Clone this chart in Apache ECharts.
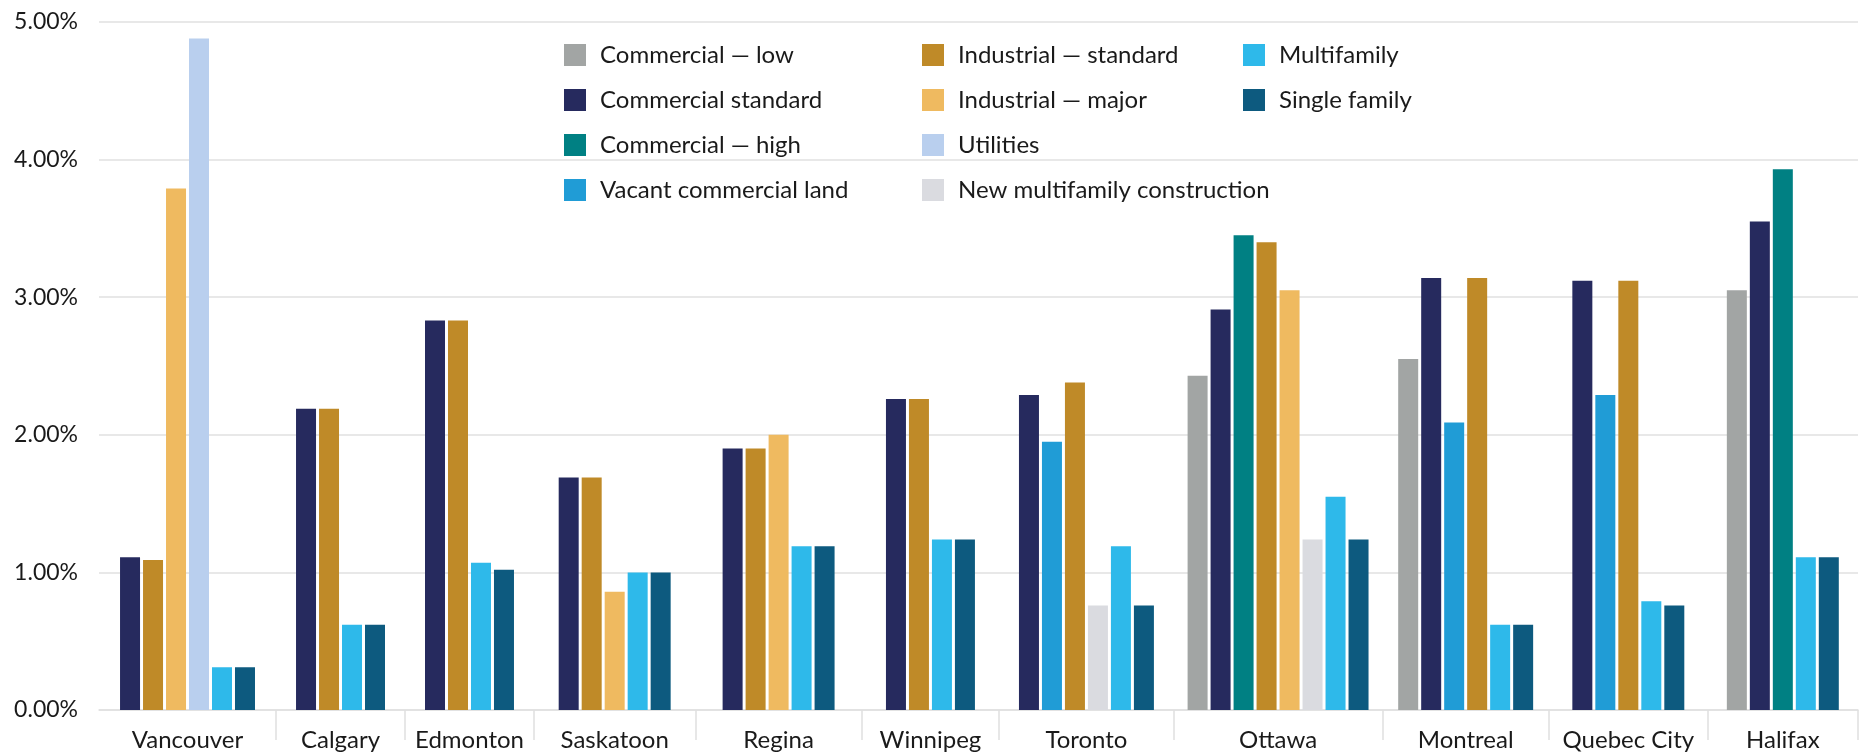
<!DOCTYPE html>
<html>
<head>
<meta charset="utf-8">
<title>Tax rates by property class</title>
<script src="https://cdn.jsdelivr.net/npm/echarts@6/dist/echarts.min.js"></script>
<style>
  html, body { margin: 0; padding: 0; background: #ffffff; }
  #chart { width: 1860px; height: 752px; }
</style>
</head>
<body>
<div id="chart"></div>
<script>
// Cities along the x axis
const cities = ['Vancouver', 'Calgary', 'Edmonton', 'Saskatoon', 'Regina', 'Winnipeg',
                'Toronto', 'Ottawa', 'Montreal', 'Quebec City', 'Halifax'];

// Rates in percent, one entry per city; null where the class is not reported
const commercialLow      = [null, null, null, null, null, null, null, 2.43, 2.55, null, 3.05];
const commercialStandard = [1.11, 2.19, 2.83, 1.69, 1.90, 2.26, 2.29, 2.91, 3.14, 3.12, 3.55];
const commercialHigh     = [null, null, null, null, null, null, null, 3.45, null, null, 3.93];
const vacantCommercial   = [null, null, null, null, null, null, 1.95, null, 2.09, 2.29, null];
const industrialStandard = [1.09, 2.19, 2.83, 1.69, 1.90, 2.26, 2.38, 3.40, 3.14, 3.12, null];
const industrialMajor    = [3.79, null, null, 0.86, 2.00, null, null, 3.05, null, null, null];
const utilities          = [4.88, null, null, null, null, null, null, null, null, null, null];
const newMultifamily     = [null, null, null, null, null, null, 0.76, 1.24, null, null, null];
const multifamily        = [0.31, 0.62, 1.07, 1.00, 1.19, 1.24, 1.19, 1.55, 0.62, 0.79, 1.11];
const singleFamily       = [0.31, 0.62, 1.02, 1.00, 1.19, 1.24, 0.76, 1.24, 0.62, 0.76, 1.11];

const seriesNames = [
  'Commercial — low', 'Commercial standard', 'Commercial — high', 'Vacant commercial land',
  'Industrial — standard', 'Industrial — major', 'Utilities', 'New multifamily construction',
  'Multifamily', 'Single family'
];

// Y axis tick values (percent)
const yTicks = [0, 1, 2, 3, 4, 5];

// ---- styling / layout settings ----
const seriesColors = ['#a2a5a4', '#262a5e', '#008083', '#209cd6', '#bf8a28',
                      '#efba60', '#b9cfee', '#dadbe0', '#2eb9ea', '#0d5a7f'];
// extra room (in bar slots) given to each city band beyond its own bars
const bandPadding = [1.70, 1.61, 1.61, 2.02, 2.24, 1.97, 1.60, 1.07, 1.25, 1.90, 1.54];

const seriesValues = [commercialLow, commercialStandard, commercialHigh, vacantCommercial,
                      industrialStandard, industrialMajor, utilities, newMultifamily,
                      multifamily, singleFamily];

// Place the reported classes of each city side by side in its own band
const seriesPoints = seriesValues.map(() => []);
const bandEdges = [0];
const bandCenters = [];
let cursor = 0;
cities.forEach((city, ci) => {
  const present = [];
  seriesValues.forEach((vals, si) => { if (vals[ci] != null) present.push(si); });
  const width = present.length + bandPadding[ci];
  let slot = cursor + bandPadding[ci] / 2 + 0.5;
  present.forEach(si => {
    seriesPoints[si].push([slot, seriesValues[si][ci]]);
    slot += 1;
  });
  bandCenters.push(cursor + width / 2);
  cursor += width;
  bandEdges.push(cursor);
});
const span = cursor;

const cityAt = v => {
  const i = bandCenters.findIndex(c => Math.abs(c - v) < 1e-6);
  return i >= 0 ? cities[i] : '';
};

const FONT = 'Lato';
const TEXT = '#1a1a1a';
const RULE = '#e0e0e0';

const legendBase = {
  orient: 'vertical',
  top: 43,
  padding: 0,
  itemWidth: 22,
  itemHeight: 22,
  itemGap: 21,
  icon: 'rect',
  selectedMode: false,
  textStyle: { fontFamily: FONT, fontSize: 24, color: TEXT, padding: [0, 0, 0, 9] }
};

const chart = echarts.init(document.getElementById('chart'), null, { renderer: 'canvas' });
chart.setOption({
  animation: false,
  backgroundColor: '#ffffff',
  textStyle: { fontFamily: FONT },
  grid: { left: 99, right: 2, top: 22, bottom: 41, containLabel: false },
  legend: [
    Object.assign({}, legendBase, { left: 564, data: seriesNames.slice(0, 4) }),
    Object.assign({}, legendBase, { left: 922, data: seriesNames.slice(4, 8) }),
    Object.assign({}, legendBase, { left: 1243, data: seriesNames.slice(8) })
  ],
  xAxis: {
    type: 'value',
    min: 0,
    max: span,
    splitLine: { show: false },
    axisLine: { show: true, lineStyle: { color: RULE, width: 1.5 } },
    axisTick: { show: true, customValues: bandEdges.slice(1), length: 30,
                lineStyle: { color: RULE, width: 1.5 } },
    axisLabel: { customValues: bandCenters, formatter: cityAt, fontFamily: FONT,
                 fontSize: 24, color: TEXT, margin: 18 }
  },
  yAxis: {
    type: 'value',
    min: yTicks[0],
    max: yTicks[yTicks.length - 1],
    interval: 1,
    axisLine: { show: false },
    axisTick: { show: false },
    splitLine: { lineStyle: { color: RULE, width: 1.5 } },
    axisLabel: { formatter: v => v.toFixed(2) + '%', fontFamily: FONT, fontSize: 23,
                 color: TEXT, margin: 21 }
  },
  series: seriesNames.map((name, si) => ({
    name: name,
    type: 'bar',
    data: seriesPoints[si],
    barWidth: 20,
    barGap: '-100%',
    itemStyle: { color: seriesColors[si] }
  }))
});
</script>
</body>
</html>
